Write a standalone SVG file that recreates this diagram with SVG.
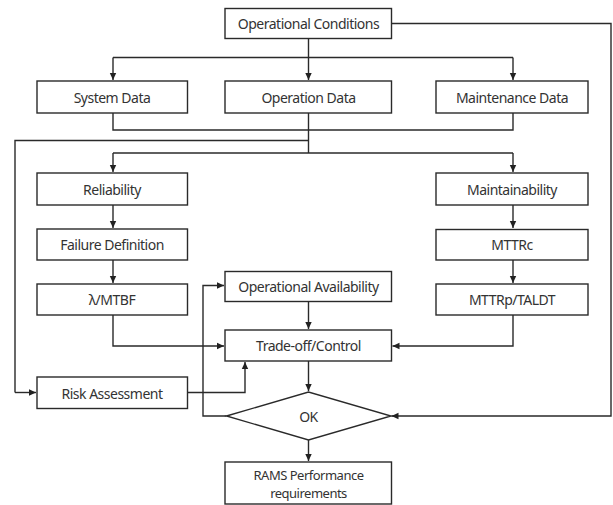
<svg xmlns="http://www.w3.org/2000/svg" width="613" height="505" viewBox="0 0 613 505">
<defs>
<marker id="ah" markerWidth="8" markerHeight="8" refX="7" refY="4" orient="auto" markerUnits="userSpaceOnUse">
<path d="M0,0.8 L7,4 L0,7.2 Z" fill="#222"/>
</marker>
<style>
.box{fill:#fff;stroke:#2a2a2a;stroke-width:1.4}
.t{font-family:"Noto Sans","Liberation Sans",sans-serif;font-size:14px;fill:#333;text-anchor:middle;dominant-baseline:central;letter-spacing:-0.5px}
.s{font-size:13px}
.c{fill:none;stroke:#2a2a2a;stroke-width:1.4}
.a{marker-end:url(#ah)}
</style>
</defs>
<rect width="613" height="505" fill="#fff"/>
<g id="connectors">
<path class="c a" d="M308.5,38.5 V80"/>
<path class="c" d="M113,57.5 H513"/>
<path class="c a" d="M113,57.5 V80"/>
<path class="c a" d="M513,57.5 V80"/>
<path class="c" d="M113,113 V130 H513 V113"/>
<path class="c" d="M308.5,113 V153"/>
<path class="c" d="M308.5,140.5 H15 V392.5"/>
<path class="c a" d="M15,392.5 H36"/>
<path class="c" d="M113,153 H513"/>
<path class="c a" d="M113,153 V172"/>
<path class="c a" d="M513,153 V172"/>
<path class="c a" d="M113,205 V228"/>
<path class="c a" d="M113,260 V283"/>
<path class="c a" d="M513,205 V228"/>
<path class="c a" d="M513,260 V283"/>
<path class="c a" d="M113,315 V346 H224"/>
<path class="c a" d="M513,315 V346 H392.5"/>
<path class="c a" d="M308.5,301.5 V329"/>
<path class="c a" d="M188,392.5 H245 V362"/>
<path class="c a" d="M308.5,361 V391"/>
<path class="c a" d="M226.5,416 H203 V285.5 H224"/>
<path class="c a" d="M391.5,23.5 H611 V416 H391.5"/>
<path class="c a" d="M308.5,440 V461"/>
</g>
<g id="operational-conditions"><rect class="box" x="225" y="8.5" width="166.5" height="30"/><text class="t" x="308.5" y="23.5">Operational Conditions</text></g>
<g id="system-data"><rect class="box" x="37" y="81" width="150.5" height="32"/><text class="t" x="112" y="97">System Data</text></g>
<g id="operation-data"><rect class="box" x="225" y="81" width="166.5" height="32"/><text class="t" x="308.5" y="97">Operation Data</text></g>
<g id="maintenance-data"><rect class="box" x="436" y="81" width="152" height="32"/><text class="t" x="512" y="97">Maintenance Data</text></g>
<g id="reliability"><rect class="box" x="37" y="173" width="150.5" height="32"/><text class="t" x="112" y="189">Reliability</text></g>
<g id="failure-definition"><rect class="box" x="37" y="229" width="150.5" height="31"/><text class="t" x="112" y="244.5">Failure Definition</text></g>
<g id="lambda-mtbf"><rect class="box" x="37" y="284" width="150.5" height="31"/><text class="t" x="112" y="299.5">λ/MTBF</text></g>
<g id="maintainability"><rect class="box" x="436" y="173" width="152" height="32"/><text class="t" x="512" y="189">Maintainability</text></g>
<g id="mttrc"><rect class="box" x="436" y="229.5" width="152" height="30.5"/><text class="t" x="512" y="244.5">MTTRc</text></g>
<g id="mttrp-taldt"><rect class="box" x="436" y="284" width="152" height="31"/><text class="t" x="512" y="299.5">MTTRp/TALDT</text></g>
<g id="operational-availability"><rect class="box" x="225" y="271.5" width="166.5" height="30"/><text class="t" x="308.5" y="286.5">Operational Availability</text></g>
<g id="trade-off-control"><rect class="box" x="225" y="330" width="166.5" height="31"/><text class="t" x="308.5" y="345.5">Trade-off/Control</text></g>
<g id="risk-assessment"><rect class="box" x="37" y="377" width="150.5" height="31.5"/><text class="t" x="112" y="393">Risk Assessment</text></g>
<g id="ok"><polygon class="box" points="226.5,416 308.5,392 391,416 308.5,440"/><text class="t" x="308.5" y="416">OK</text></g>
<g id="rams"><rect class="box" x="225" y="462" width="166.5" height="42"/><text class="t s" x="308.5" y="474.5">RAMS Performance</text><text class="t s" x="308.5" y="493">requirements</text></g>
</svg>
